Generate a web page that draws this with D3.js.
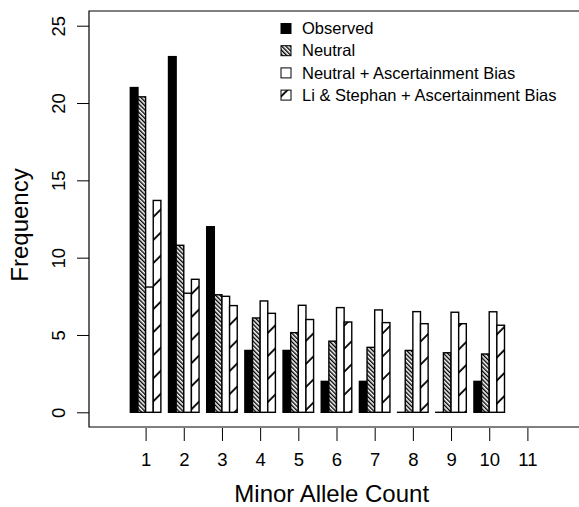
<!DOCTYPE html>
<html lang="en">
<head>
  <meta charset="UTF-8">
  <title>Minor Allele Count frequency</title>
  <script src="https://cdn.jsdelivr.net/npm/d3@7"></script>
  <style>
    body { margin: 0; background: #fff; }
    text { font-family: "Liberation Sans", Arial, Helvetica, sans-serif; fill: #000; }
    .bar { stroke: #000; stroke-width: 1.4px; }
  </style>
</head>
<body>
  <script>
    // chart data
    const counts = [1, 2, 3, 4, 5, 6, 7, 8, 9, 10];
    const observed = [21, 23, 12, 4, 4, 2, 2, 0, 0, 2];
    const neutral = [20.4, 10.8, 7.6, 6.1, 5.15, 4.6, 4.2, 4.0, 3.85, 3.77];
    const neutralAB = [8.1, 7.7, 7.5, 7.2, 6.92, 6.77, 6.62, 6.51, 6.47, 6.5];
    const liStephanAB = [13.7, 8.6, 6.9, 6.4, 6.0, 5.84, 5.8, 5.73, 5.73, 5.63];
    const seriesNames = ["Observed", "Neutral", "Neutral + Ascertainment Bias", "Li & Stephan + Ascertainment Bias"];
    const xTicks = [1, 2, 3, 4, 5, 6, 7, 8, 9, 10, 11];
    const yTicks = [0, 5, 10, 15, 20, 25];

    const width = 579, height = 507;
    const box = { left: 89, top: 11, bottom: 427, right: 600 };

    const svg = d3.select("body").append("svg")
      .attr("width", width)
      .attr("height", height);

    const defs = svg.append("defs");
    // dense "\" hatching for Neutral
    defs.append("pattern")
      .attr("id", "hatchDense")
      .attr("patternUnits", "userSpaceOnUse")
      .attr("width", 3).attr("height", 3)
      .attr("patternTransform", "rotate(-45)")
      .call(p => {
        p.append("rect").attr("width", 3).attr("height", 3).attr("fill", "#fff");
        p.append("line").attr("x1", 0.7).attr("y1", -1).attr("x2", 0.7).attr("y2", 4)
          .attr("stroke", "#000").attr("stroke-width", 1.4);
      });
    // sparse "/" hatching for Li & Stephan
    defs.append("pattern")
      .attr("id", "hatchSparse")
      .attr("patternUnits", "userSpaceOnUse")
      .attr("width", 16.3).attr("height", 16.3)
      .attr("patternTransform", "rotate(45)")
      .call(p => {
        p.append("rect").attr("width", 16.3).attr("height", 16.3).attr("fill", "#fff");
        p.append("line").attr("x1", 1).attr("y1", -1).attr("x2", 1).attr("y2", 18)
          .attr("stroke", "#000").attr("stroke-width", 1.8);
      });

    const fills = ["#000", "url(#hatchDense)", "#fff", "url(#hatchSparse)"];
    const series = [observed, neutral, neutralAB, liStephanAB];

    const x = d3.scaleLinear().domain([1, 11]).range([145.6, 527.4]);
    const y = d3.scaleLinear().domain([0, 25]).range([412.3, 25.7]);
    const bw = (x(2) - x(1)) / 5;

    // bars (zero bars still show their outline as a flat line)
    series.forEach((vals, k) => {
      svg.append("g").selectAll("rect")
        .data(vals)
        .join("rect")
        .attr("class", "bar")
        .attr("x", (d, i) => x(counts[i]) - 2 * bw + k * bw)
        .attr("y", d => y(d))
        .attr("width", bw)
        .attr("height", d => Math.max(y(0) - y(d), 0.01))
        .attr("fill", fills[k]);
    });

    // plot frame (right side runs off the picture)
    svg.append("path")
      .attr("d", `M${box.right},${box.top}H${box.left}V${box.bottom}H${box.right}`)
      .attr("fill", "none")
      .attr("stroke", "#000")
      .attr("stroke-width", 1.2);

    // y axis
    const yAxis = svg.append("g")
      .attr("transform", `translate(${box.left},0)`)
      .call(d3.axisLeft(y).tickValues(yTicks).tickSize(12).tickPadding(0));
    yAxis.select(".domain").remove();
    yAxis.selectAll("line").attr("stroke", "#000");
    yAxis.selectAll("text")
      .attr("x", null).attr("dy", null)
      .attr("transform", "translate(-24,0) rotate(-90)")
      .attr("text-anchor", "middle")
      .style("font-size", "18.5px")
      .style("font-family", "Liberation Sans, Arial, sans-serif")
      .attr("fill", "#000");

    // x axis
    const xAxis = svg.append("g")
      .attr("transform", `translate(0,${box.bottom + 1})`)
      .call(d3.axisBottom(x).tickValues(xTicks).tickFormat(d3.format("d")).tickSize(13).tickPadding(12));
    xAxis.select(".domain").remove();
    xAxis.selectAll("line").attr("stroke", "#000");
    xAxis.selectAll("text")
      .style("font-size", "18.5px")
      .style("font-family", "Liberation Sans, Arial, sans-serif")
      .attr("fill", "#000");

    // axis titles
    svg.append("text")
      .attr("transform", "translate(28,225) rotate(-90)")
      .attr("text-anchor", "middle")
      .style("font-size", "24px")
      .text("Frequency");
    svg.append("text")
      .attr("x", 331.7).attr("y", 501.7)
      .attr("text-anchor", "middle")
      .style("font-size", "24px")
      .text("Minor Allele Count");

    // legend
    const legend = svg.append("g").attr("transform", "translate(281,28.5)");
    seriesNames.forEach((name, k) => {
      const row = legend.append("g").attr("transform", `translate(0,${k * 22.2})`);
      row.append("rect")
        .attr("x", 0).attr("y", -5).attr("width", 10).attr("height", 10)
        .attr("fill", fills[k]).attr("stroke", "#000").attr("stroke-width", 1);
      row.append("text")
        .attr("x", 21).attr("y", 0).attr("dy", "0.35em")
        .style("font-size", "16.5px")
        .text(name);
    });
  </script>
</body>
</html>
